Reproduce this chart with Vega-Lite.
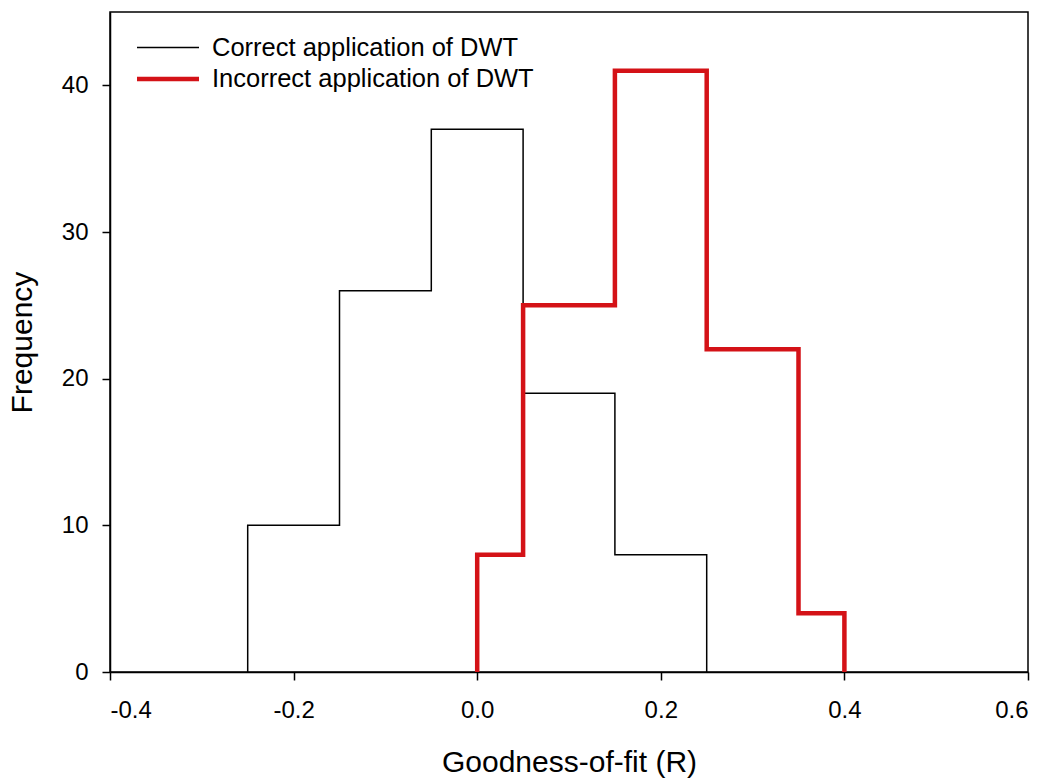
{
  "$schema": "https://vega.github.io/schema/vega-lite/v6.json",
  "width": 918,
  "height": 660,
  "autosize": {"type": "none"},
  "padding": {"left": 110, "top": 12, "right": 23, "bottom": 111},
  "background": "white",
  "config": {
    "font": "Liberation Sans",
    "view": {"stroke": "black", "strokeWidth": 1.5},
    "axis": {"grid": false, "domainColor": "black", "tickColor": "black", "labelColor": "black", "titleColor": "black", "labelFont": "Liberation Sans", "titleFont": "Liberation Sans", "titleFontWeight": "normal"}
  },
  "data": {
    "values": [
      {"series": "Correct application of DWT", "i": 0, "x": -0.25, "y": 0},
      {"series": "Correct application of DWT", "i": 1, "x": -0.25, "y": 10},
      {"series": "Correct application of DWT", "i": 2, "x": -0.15, "y": 10},
      {"series": "Correct application of DWT", "i": 3, "x": -0.15, "y": 26},
      {"series": "Correct application of DWT", "i": 4, "x": -0.05, "y": 26},
      {"series": "Correct application of DWT", "i": 5, "x": -0.05, "y": 37},
      {"series": "Correct application of DWT", "i": 6, "x": 0.05, "y": 37},
      {"series": "Correct application of DWT", "i": 7, "x": 0.05, "y": 19},
      {"series": "Correct application of DWT", "i": 8, "x": 0.15, "y": 19},
      {"series": "Correct application of DWT", "i": 9, "x": 0.15, "y": 8},
      {"series": "Correct application of DWT", "i": 10, "x": 0.25, "y": 8},
      {"series": "Correct application of DWT", "i": 11, "x": 0.25, "y": 0},
      {"series": "Incorrect application of DWT", "i": 0, "x": 0.0, "y": 0},
      {"series": "Incorrect application of DWT", "i": 1, "x": 0.0, "y": 8},
      {"series": "Incorrect application of DWT", "i": 2, "x": 0.05, "y": 8},
      {"series": "Incorrect application of DWT", "i": 3, "x": 0.05, "y": 25},
      {"series": "Incorrect application of DWT", "i": 4, "x": 0.15, "y": 25},
      {"series": "Incorrect application of DWT", "i": 5, "x": 0.15, "y": 41},
      {"series": "Incorrect application of DWT", "i": 6, "x": 0.25, "y": 41},
      {"series": "Incorrect application of DWT", "i": 7, "x": 0.25, "y": 22},
      {"series": "Incorrect application of DWT", "i": 8, "x": 0.35, "y": 22},
      {"series": "Incorrect application of DWT", "i": 9, "x": 0.35, "y": 4},
      {"series": "Incorrect application of DWT", "i": 10, "x": 0.4, "y": 4},
      {"series": "Incorrect application of DWT", "i": 11, "x": 0.4, "y": 0}
    ]
  },
  "mark": {"type": "line", "strokeJoin": "miter", "strokeCap": "butt", "clip": true},
  "encoding": {
    "x": {
      "field": "x", "type": "quantitative",
      "scale": {"domain": [-0.4, 0.6], "nice": false, "zero": false},
      "axis": {"values": [-0.4, -0.2, 0, 0.2, 0.4, 0.6], "labelExpr": "replace(format(datum.value, '.1f'), '\u2212', '-')", "labelFontSize": 24, "labelPadding": 18, "tickSize": 8, "tickWidth": 1.5, "domainWidth": 1.5, "title": "Goodness-of-fit (R)", "titleFontSize": 30, "titlePadding": 25}
    },
    "y": {
      "field": "y", "type": "quantitative",
      "scale": {"domain": [0, 45], "nice": false},
      "axis": {"values": [0, 10, 20, 30, 40], "labelFontSize": 24, "labelPadding": 14, "tickSize": 8, "tickWidth": 1.5, "domainWidth": 1.5, "title": "Frequency", "titleFontSize": 30, "titlePadding": 24}
    },
    "order": {"field": "i", "type": "quantitative"},
    "color": {
      "field": "series", "type": "nominal",
      "scale": {"domain": ["Correct application of DWT", "Incorrect application of DWT"], "range": ["black", "#d41217"]},
      "legend": {"title": null, "orient": "none", "legendX": 40, "legendY": 19, "symbolType": "M-2,0H2", "symbolSize": 961, "labelFontSize": 25.5, "labelLimit": 600, "labelFont": "Liberation Sans", "labelColor": "black", "labelOffset": 26, "rowPadding": 0}
    },
    "strokeWidth": {
      "field": "series", "type": "nominal",
      "scale": {"domain": ["Correct application of DWT", "Incorrect application of DWT"], "range": [1.5, 4.5]},
      "legend": {"title": null, "orient": "none", "legendX": 40, "legendY": 19, "symbolType": "M-2,0H2", "symbolSize": 961, "labelFontSize": 25.5, "labelLimit": 600, "labelFont": "Liberation Sans", "labelColor": "black", "labelOffset": 26, "rowPadding": 0}
    }
  }
}
